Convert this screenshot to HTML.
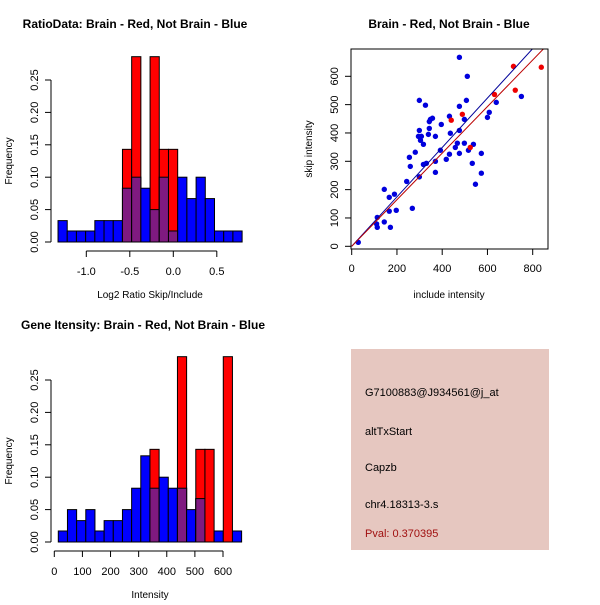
<!DOCTYPE html>
<html><head><meta charset="utf-8"><style>
body{margin:0;background:#fff;}
svg text{font-family:"Liberation Sans",sans-serif;}
</style></head><body>
<svg id="s" width="600" height="600" xmlns="http://www.w3.org/2000/svg">
<rect width="600" height="600" fill="#fff"/>
<text x="135" y="28" text-anchor="middle" font-size="12" font-weight="bold">RatioData: Brain - Red, Not Brain - Blue</text>
<text x="449" y="28" text-anchor="middle" font-size="12" font-weight="bold">Brain - Red, Not Brain - Blue</text>
<text x="143" y="329" text-anchor="middle" font-size="12" font-weight="bold">Gene Itensity: Brain - Red, Not Brain - Blue</text>
<g>
<rect x="351" y="349" width="198" height="201" fill="#e6c7c0"/>
<text x="365" y="396" font-size="11">G7100883@J934561@j_at</text>
<text x="365" y="435" font-size="11">altTxStart</text>
<text x="365" y="471" font-size="11">Capzb</text>
<text x="365" y="508" font-size="11">chr4.18313-3.s</text>
<text x="365" y="537" font-size="11" fill="#a01010">Pval: 0.370395</text>
</g>
</svg>
<script>
// Ratio histogram
const ratioBinStart = -1.325, ratioBinWidth = 0.1058;
const ratioBlue = [0.033,0.017,0.017,0.017,0.033,0.033,0.033,0.083,0.1,0.083,0.05,0.1,0.017,0.1,0.067,0.1,0.067,0.017,0.017,0.017];
const ratioRed = [0,0,0,0,0,0,0,0.143,0.286,0,0.286,0.143,0.143,0,0,0,0,0,0,0];
const ratioXTicks = [-1.0,-0.5,0.0,0.5];
const ratioXTickLabels = ["-1.0","-0.5","0.0","0.5"];
// Intensity histogram
const intBinStart = 14.2, intBinWidth = 32.6;
const intBlue = [0.017,0.05,0.033,0.05,0.017,0.033,0.033,0.05,0.083,0.133,0.083,0.1,0.083,0.083,0.05,0.067,0,0.017,0,0.017];
const intRed = [0,0,0,0,0,0,0,0,0,0,0.143,0,0,0.286,0,0.143,0.143,0,0.286,0];
const intXTicks = [0,100,200,300,400,500,600];
const freqTicks = [0,0.05,0.10,0.15,0.20,0.25];
const freqTickLabels = ["0.00","0.05","0.10","0.15","0.20","0.25"];
// Scatter
const blueX = [29,113,110,113,144,144,166,166,171,189,197,243,255,259,268,281,299,299,295,299,304,308,317,317,326,330,339,343,343,348,357,370,370,370,392,396,418,432,432,436,458,467,476,476,476,476,498,498,507,511,516,533,538,547,573,573,600,608,639,750];
const blueY = [14,102,79,67,86,201,173,124,67,184,127,229,314,282,134,332,515,409,388,245,374,388,360,289,498,293,395,440,416,448,452,300,388,261,339,430,307,325,459,399,349,364,409,328,494,667,448,364,515,600,339,293,360,219,328,258,455,473,508,529];
const redX = [440,489,524,631,715,723,838];
const redY = [445,466,349,536,635,551,632];
const blueSlope = 0.872, redSlope = 0.822;
const scXTicks = [0,200,400,600,800];
const scYTicks = [0,100,200,300,400,500,600];

const NS="http://www.w3.org/2000/svg", svg=document.getElementById('s');
function mk(tag,attrs,parent){const e=document.createElementNS(NS,tag);for(const k in attrs)e.setAttribute(k,attrs[k]);(parent||svg).appendChild(e);return e;}

function hist(cfg){
  const g=mk('g',{});
  
  
  const yS=v=>cfg.y0-v*(cfg.y0-cfg.y25)/0.25;
  const xS=v=>cfg.xa+(v-cfg.v0)*cfg.k;
  cfg.blue.forEach((b,i)=>{
    const x0=xS(cfg.bs+i*cfg.bw), x1=xS(cfg.bs+(i+1)*cfg.bw);
    const r=cfg.red[i];
    const top=Math.max(b,r);
    if(top<=0)return;
    if(b>0){const e=mk('rect',{x:x0,y:yS(b),width:x1-x0,height:yS(0)-yS(b),fill:'#0000ff',stroke:'#000','stroke-width':1},g);
      
      }
    if(r>0){const e=mk('rect',{x:x0,y:yS(r),width:x1-x0,height:yS(0)-yS(r),fill:'#ff0000',stroke:'#000','stroke-width':1},g);
      
      }
    if(b>0&&r>0){const m=Math.min(b,r);const e=mk('rect',{x:x0,y:yS(m),width:x1-x0,height:yS(0)-yS(m),fill:'#7f1a80',stroke:'#000','stroke-width':1},g);
      
      }
  });
  // y axis
  const ya=mk('g',{},g);
  
  
  mk('line',{x1:51,x2:51,y1:yS(0),y2:yS(0.25),stroke:'#000'},ya);
  freqTicks.forEach((t,i)=>{const y=yS(t);mk('line',{x1:45,x2:51,y1:y,y2:y,stroke:'#000'},ya);
    const tx=mk('text',{x:0,y:0,'font-size':11,'text-anchor':'middle',transform:`translate(38,${y}) rotate(-90)`},ya);tx.textContent=freqTickLabels[i];});
  const yl=mk('text',{x:0,y:0,'font-size':10,'text-anchor':'middle',transform:`translate(12,${yS(0.125)}) rotate(-90)`},g);yl.textContent='Frequency';
  
  
  // x axis
  const xa=mk('g',{},g);
  
  
  const ay=cfg.y0+9;
  mk('line',{x1:xS(cfg.ticks[0]),x2:xS(cfg.ticks[cfg.ticks.length-1]),y1:ay,y2:ay,stroke:'#000'},xa);
  cfg.ticks.forEach((t,i)=>{const x=xS(t);mk('line',{x1:x,x2:x,y1:ay,y2:ay+6,stroke:'#000'},xa);
    const tx=mk('text',{x:x,y:ay+24,'font-size':11,'text-anchor':'middle'},xa);tx.textContent=cfg.labels[i];});
  const xl=mk('text',{x:150,y:cfg.y0+56,'font-size':10,'text-anchor':'middle'},g);xl.textContent=cfg.xtitle;
  
  
}
hist({name:'ratio-histogram',y0:242,y25:80,xa:173.3,v0:0,k:87,bs:ratioBinStart,bw:ratioBinWidth,blue:ratioBlue,red:ratioRed,ticks:ratioXTicks,labels:ratioXTickLabels,xtitle:'Log2 Ratio Skip/Include'});
hist({name:'intensity-histogram',y0:542,y25:380,xa:54.3,v0:0,k:168.7/600,bs:intBinStart,bw:intBinWidth,blue:intBlue,red:intRed,ticks:intXTicks,labels:intXTicks.map(String),xtitle:'Intensity'});

// scatter
(function(){
  const g=mk('g',{});
  
  
  const xS=v=>351.7+v*181/800, yS=v=>246.3-v*170/600;
  const L=351,R=548,T=49,B=249;
  const cp=mk('clipPath',{id:'cp'},g);mk('rect',{x:L,y:T,width:R-L,height:B-T},cp);
  blueX.forEach((x,i)=>{const c=mk('circle',{cx:xS(x),cy:yS(blueY[i]),r:2.7,fill:'#0000dd'},g);
    
    });
  redX.forEach((x,i)=>{const c=mk('circle',{cx:xS(x),cy:yS(redY[i]),r:2.7,fill:'#ee0000'},g);
    
    });
  const bl=mk('line',{x1:xS(0),y1:yS(0),x2:xS(1000),y2:yS(1000*blueSlope),stroke:'#000099','stroke-width':1,'clip-path':'url(#cp)'},g);
  
  
  const rl=mk('line',{x1:xS(0),y1:yS(0),x2:xS(1000),y2:yS(1000*redSlope),stroke:'#bb0000','stroke-width':1,'clip-path':'url(#cp)'},g);
  
  
  mk('rect',{x:L,y:T,width:R-L,height:B-T,fill:'none',stroke:'#000'},g);
  scXTicks.forEach(t=>{const x=xS(t);mk('line',{x1:x,x2:x,y1:B,y2:B+6,stroke:'#000'},g);
    const tx=mk('text',{x:x,y:B+23,'font-size':11,'text-anchor':'middle'},g);tx.textContent=t;});
  scYTicks.forEach(t=>{const y=yS(t);mk('line',{x1:L-6,x2:L,y1:y,y2:y,stroke:'#000'},g);
    const tx=mk('text',{x:0,y:0,'font-size':11,'text-anchor':'middle',transform:`translate(338,${y}) rotate(-90)`},g);tx.textContent=t;});
  const xl=mk('text',{x:449,y:298,'font-size':10,'text-anchor':'middle'},g);xl.textContent='include intensity';
  
  
  const yl=mk('text',{x:0,y:0,'font-size':10,'text-anchor':'middle',transform:'translate(312,149) rotate(-90)'},g);yl.textContent='skip intensity';
  
  
})();
</script>
</body></html>
